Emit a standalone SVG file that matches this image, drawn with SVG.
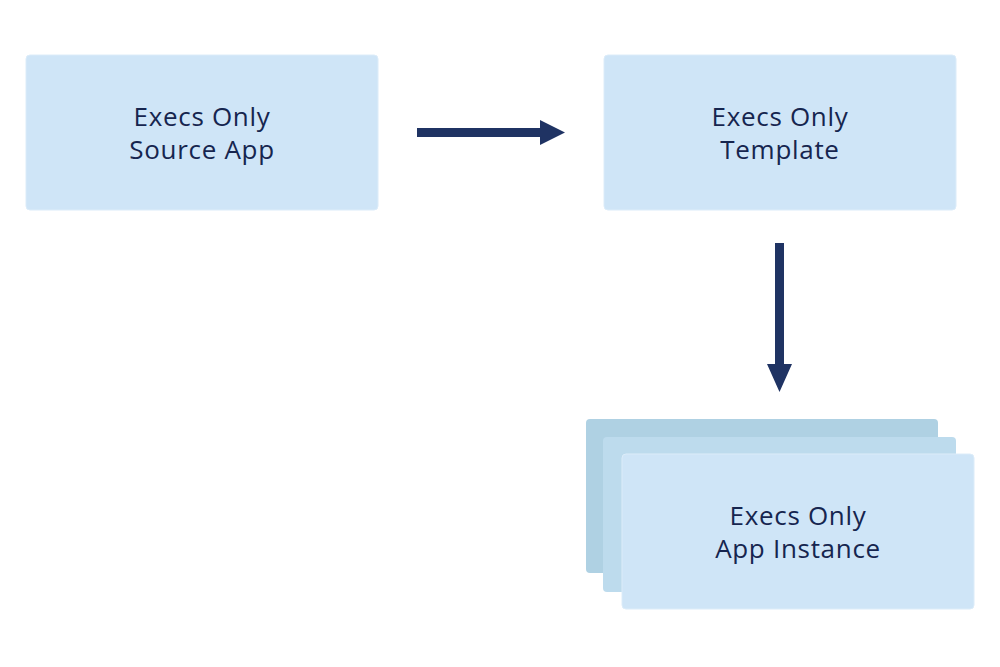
<svg xmlns="http://www.w3.org/2000/svg" width="1000" height="667" viewBox="0 0 1000 667">
<style>
.box{fill:#cfe5f7;stroke:#dcecf9;stroke-width:1}
.back{fill:#afd1e3}
.mid{fill:#bddbed}
.lbl{font-family:"Open Sans","Liberation Sans",sans-serif;font-size:26px;letter-spacing:0.7px;fill:#16254f;text-anchor:middle}
.arr{fill:#1f3363}
</style>
<rect width="1000" height="667" fill="#ffffff"/>
<g id="source-app">
<rect class="box" x="26" y="55" width="352" height="155" rx="4"/>
<text class="lbl"><tspan x="202" y="126">Execs Only</tspan><tspan x="202" y="159">Source App</tspan></text>
</g>
<g id="template">
<rect class="box" x="604" y="55" width="352" height="155" rx="4"/>
<text class="lbl"><tspan x="780" y="126">Execs Only</tspan><tspan x="780" y="159">Template</tspan></text>
</g>
<g id="app-instance">
<rect class="back" x="586" y="419" width="352" height="154" rx="4"/>
<rect class="mid" x="603" y="437" width="353" height="155" rx="4"/>
<rect class="box" x="622" y="454" width="352" height="155" rx="4"/>
<text class="lbl"><tspan x="798" y="525">Execs Only</tspan><tspan x="798" y="558">App Instance</tspan></text>
</g>
<g id="connectors">
<path class="arr" d="M417,128 H540 V120 L565,132.5 L540,145 V137 H417 Z"/>
<path class="arr" d="M775,243 H784 V364 H792 L779.5,392 L767,364 H775 Z"/>
</g>
</svg>
